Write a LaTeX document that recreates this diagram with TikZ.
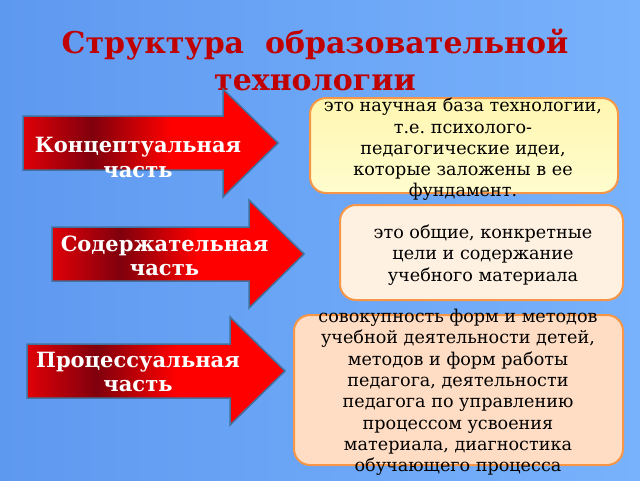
\documentclass[tikz,border=0pt]{standalone}
\usepackage{fontspec}
\setmainfont{DejaVu Serif}
\usetikzlibrary{positioning}
\definecolor{bg left}{RGB}{94,153,240}
\definecolor{bg right}{RGB}{120,178,252}
\definecolor{title red}{RGB}{192,0,0}
\definecolor{arrow border}{RGB}{65,113,156}
\definecolor{box orange}{RGB}{247,150,70}
\definecolor{yellow top}{RGB}{255,246,176}
\definecolor{yellow bottom}{RGB}{255,253,206}
\definecolor{cream}{RGB}{255,241,226}
\definecolor{peach}{RGB}{255,221,196}
\pgfdeclarehorizontalshading{arrow red}{100bp}{rgb(0bp)=(0.88,0,0.03); rgb(25bp)=(0.88,0,0.03); rgb(38.5bp)=(0.5,0,0.05); rgb(54bp)=(1,0,0); rgb(100bp)=(1,0,0)}
\frenchspacing

\begin{document}
\begin{tikzpicture}[x=1pt,y=-1pt,
  box/.style={draw=box orange,line width=2pt,rounded corners=16pt,inner sep=0},
  box text/.style={align=center,font=\fontsize{17.6}{21.3}\selectfont,text=black},
  part/.style={align=center,font=\fontsize{21}{24.5}\selectfont\bfseries,text=white},
  arrow/.style={draw=arrow border,line width=1.5pt,shading=arrow red},
]
  \shade[left color=bg left,right color=bg right] (0,0) rectangle (640,480);

  \node[font=\fontsize{30}{37}\selectfont\bfseries,text=title red,align=center] (title) at (315,60)
    {Структура\ \ образовательной\\технологии};

  \foreach \x/\y/\l in {23/143/255,52/254/252,27/371/258}
    \shade[arrow] (\x,\y-27) -- (\x+\l-55,\y-27) -- (\x+\l-55,\y-54) -- (\x+\l,\y)
      -- (\x+\l-55,\y+54) -- (\x+\l-55,\y+27) -- (\x,\y+27) -- cycle;

  \node[part] (c) at (138,157.5) {Концептуальная\\часть};
  \node[part] (s) at (164.5,256) {Содержательная\\часть};
  \node[part] (p) at (138,372) {Процессуальная\\часть};

  \node[box,top color=yellow top,bottom color=yellow bottom,minimum width=308pt,minimum height=95pt] (b1) at (464,145.5) {};
  \node[box,fill=cream,minimum width=283pt,minimum height=95pt] (b2) at (481.5,252.5) {};
  \node[box,fill=peach,minimum width=329pt,minimum height=150pt] (b3) at (458.5,390) {};

  \node[box text] (t1) at (463,149.5) {это научная база технологии,\\т.е. психолого-\\педагогические идеи,\\которые заложены в ее\\фундамент.};
  \node[box text] (t2) at (483,255) {это общие, конкретные\\цели и содержание\\учебного материала};
  \node[box text] (t3) at (458,392.5) {совокупность форм и методов\\учебной деятельности детей,\\методов и форм работы\\педагога, деятельности\\педагога по управлению\\процессом усвоения\\материала, диагностика\\обучающего процесса};
\end{tikzpicture}
\end{document}
